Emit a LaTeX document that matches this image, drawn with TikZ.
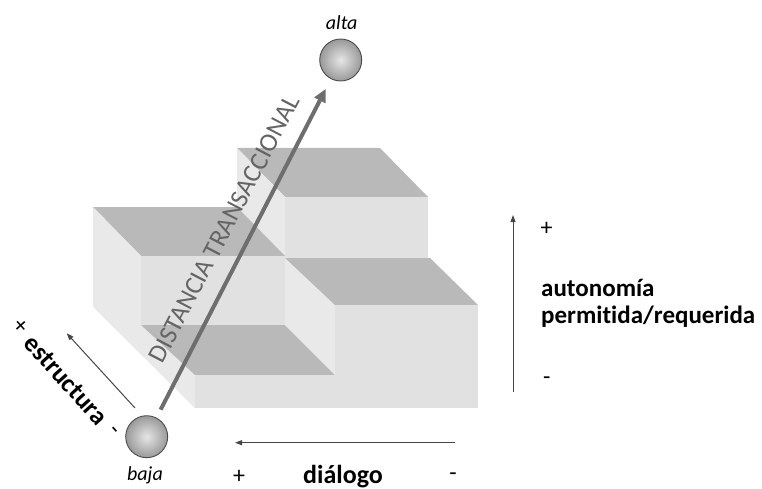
\documentclass[tikz,border=0pt]{standalone}
\usepackage{fontspec}
\setmainfont{Carlito}[Ligatures=NoCommon]
\usetikzlibrary{arrows.meta}
\definecolor{topc}{RGB}{185,185,185}
\definecolor{frontc}{RGB}{225,225,225}
\definecolor{sidec}{RGB}{233,233,233}
\definecolor{arrowc}{RGB}{110,110,110}
\definecolor{distc}{RGB}{100,100,100}
\definecolor{thinc}{RGB}{70,70,70}
\tikzset{
 topf/.style={fill=topc},
 frontf/.style={fill=frontc},
 sidef/.style={fill=sidec},
 ball/.style={circle, minimum size=42pt, inner sep=0pt, shading=radial, inner color=gray!20, outer color=gray!80, draw=black!70, line width=0.9pt},
 bigarrow/.style={draw=arrowc, line width=4pt, -{Triangle[length=13pt,width=12pt]}},
 thinarrow/.style={draw=thinc, line width=1pt, -{Triangle[length=7pt,width=5pt]}},
 lbl/.style={inner sep=0pt, font=\fontsize{26}{30}\selectfont\bfseries},
 rlbl/.style={inner sep=0pt, font=\fontsize{25}{29}\selectfont\bfseries},
 sign/.style={inner sep=0pt, font=\fontsize{24}{26}\selectfont},
 pole/.style={inner sep=0pt, font=\fontsize{20}{22}\selectfont\itshape},
}
\begin{document}
\begin{tikzpicture}[x=1pt,y=-1pt]
\useasboundingbox (0,0) rectangle (762,489);
% blocks
\fill[topf]   (237,148) -- (380,148) -- (428,197) -- (285,197) -- cycle;
\fill[frontf] (285,197) -- (428,197) -- (428,258) -- (285,258) -- cycle;
\fill[sidef]  (237,148) -- (285,197) -- (285,256) -- (237,207) -- cycle;
\fill[topf]   (93,207) -- (237,207) -- (285,256) -- (141,256) -- cycle;
\fill[sidef]  (93,207) -- (141,256) -- (141,325) -- (195,375) -- (195,408) -- (93,307) -- cycle;
\fill[frontf] (141,256) -- (285,256) -- (285,325) -- (141,325) -- cycle;
\fill[topf]   (141,325) -- (285,325) -- (335,375) -- (195,375) -- cycle;
\fill[sidef]  (285,258) -- (335,305) -- (335,375) -- (285,325) -- cycle;
\fill[topf]   (285,258) -- (430,258) -- (478,305) -- (335,305) -- cycle;
\fill[frontf] (335,305) -- (478,305) -- (478,408) -- (335,408) -- cycle;
\fill[frontf] (195,375) -- (335,375) -- (335,408) -- (195,408) -- cycle;
% balls
\node[ball] (baja) at (146.7,436.7) {};
\node[ball] (alta) at (340.7,60) {};
\node[pole, anchor=base] (altalbl) at (341.7,29.5) {alta};
\node[pole, anchor=base] (bajalbl) at (145,480) {baja};
% main arrow
\draw[bigarrow, shorten <=9pt, shorten >=11pt] (baja) -- (alta);
\node[inner sep=0pt, text=distc, rotate=62.5, font=\fontsize{26}{30}\selectfont] (dist) at (224,229) {DISTANCIA TRANSACCIONAL};
% estructura
\coordinate (e1) at (135,408);
\coordinate (e2) at (66.7,333.3);
\draw[thinarrow] (e1) -- (e2);
\node[lbl, rotate=-48] (estr) at (66,380) {estructura};
\node[sign, rotate=-48] (eplus) at (20,327) {+};
\node[sign, rotate=-48] (eminus) at (113,432) {-};
% dialogo
\coordinate (d1) at (455,442.7);
\coordinate (d2) at (235,442.7);
\draw[thinarrow] (d1) -- (d2);
\node[lbl, anchor=base] (dial) at (343,483) {diálogo};
\node[sign] (dplus) at (239,477) {+};
\node[sign] (dminus) at (453,477) {-};
% autonomia
\coordinate (a1) at (513,392);
\coordinate (a2) at (513,215);
\draw[thinarrow] (a1) -- (a2);
\node[sign] (aplus) at (546.7,229) {+};
\node[sign] (aminus) at (546.7,381) {-};
\node[rlbl, anchor=base west] (auto) at (541,296.7) {autonomía};
\node[rlbl, anchor=base west] (perm) at (541,323.3) {permitida/requerida};
\end{tikzpicture}
\end{document}
